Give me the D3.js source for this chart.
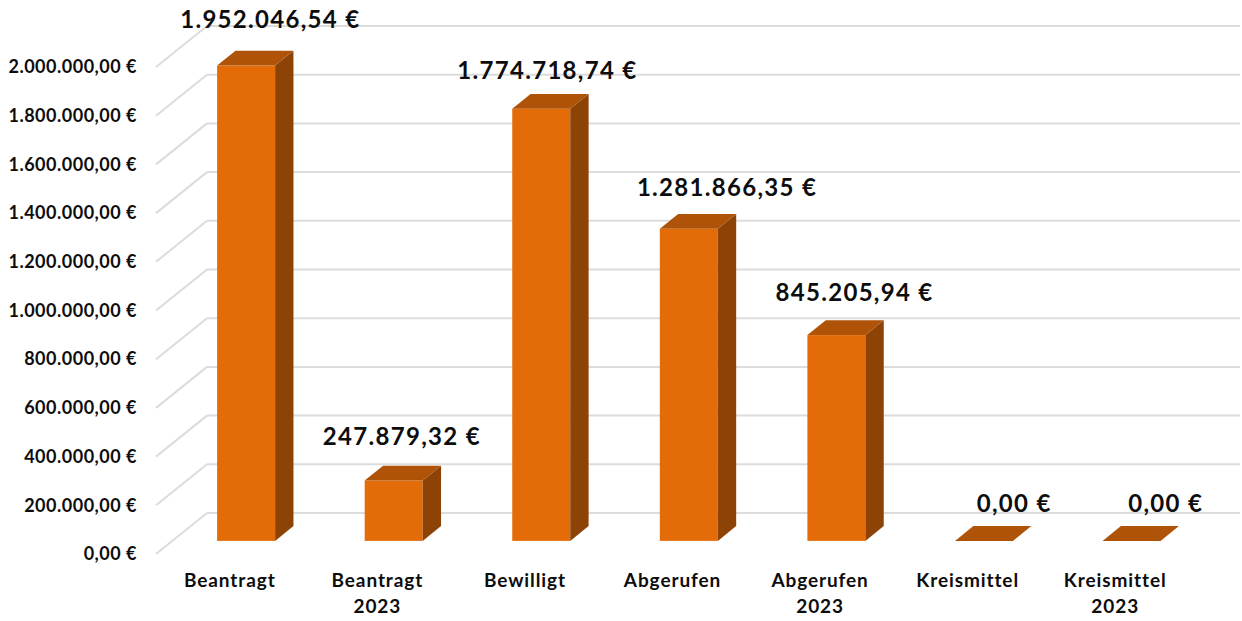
<html>
  <head>
    <meta charset="utf-8">
    <style>
body { margin: 0; background: #fff; }
svg text { font-family: Lato, "Open Sans", sans-serif; font-weight: bold; fill: #0d0d0d; }
.grid line { stroke: #dcdcdc; stroke-width: 2; }
.axis path { display: none; }
    </style>
  </head>
  <body>
    <svg width="1242" height="621"></svg>
    <script src="https://d3js.org/d3.v7.min.js"></script>
    <script>

// data
var categories = ["Beantragt", "Beantragt 2023", "Bewilligt", "Abgerufen", "Abgerufen 2023", "Kreismittel", "Kreismittel 2023"];
var values = [1952046.54, 247879.32, 1774718.74, 1281866.35, 845205.94, 0, 0];
var yTicks = [0, 200000, 400000, 600000, 800000, 1000000, 1200000, 1400000, 1600000, 1800000, 2000000];

// little position tweaks for the value labels (Excel puts them a bit unevenly)
var labelNudge = [[15, -31], [-1, -29], [-3, -24], [29, -27], [9, -28], [21, -23], [25, -23]];

var svg = d3.select("svg");

var de = d3.formatLocale({decimal: ",", thousands: ".", grouping: [3], currency: ["", " €"]});
var fmt = de.format("$,.2f");

// front plane of the box, plus the depth vector of the back wall
var left = 156, right = 1189,
    depth = {x: 51, y: -41},
    t0 = 0.32, t1 = 0.68;   // bar sits between these depth fractions

var x = d3.scaleBand().domain(categories).range([left, right])
    .paddingInner(0.607).paddingOuter(0.3035);
var y = d3.scaleLinear().domain([0, 2000000]).range([554, 67]);

// grid: diagonal on the side wall and horizontal on the back wall
var grid = svg.append("g").attr("class", "grid");
grid.selectAll(".diag").data(yTicks).enter().append("line")
  .attr("x1", left).attr("y1", function(d) { return y(d); })
  .attr("x2", left + depth.x).attr("y2", function(d) { return y(d) + depth.y; });
grid.selectAll(".back").data(yTicks).enter().append("line")
  .attr("x1", left + depth.x).attr("y1", function(d) { return y(d) + depth.y; })
  .attr("x2", right + depth.x).attr("y2", function(d) { return y(d) + depth.y; });

// y axis labels
svg.append("g")
  .attr("class", "axis")
  .attr("transform", "translate(137,0)")
  .call(d3.axisLeft(y).tickValues(yTicks).tickSize(0).tickPadding(0).tickFormat(fmt))
  .selectAll("text")
  .style("font-size", "18px")
  .style("letter-spacing", "0.5px")
  .style("font-family", "Lato, sans-serif");

// bars
var bw = x.bandwidth();
var bars = svg.selectAll(".bar").data(values).enter().append("g").attr("class", "bar");

function pt(px, py) { return px + "," + py; }

bars.each(function(v, i) {
  var g = d3.select(this),
      xl = x(categories[i]), xr = xl + bw,
      yt = y(v), yb = y(0),
      ax = t0 * depth.x, ay = t0 * depth.y,
      bx = t1 * depth.x, by = t1 * depth.y;

  if (v > 0) {
    g.append("rect")
      .attr("x", xl + ax).attr("y", yt + ay)
      .attr("width", bw).attr("height", yb - yt)
      .attr("fill", "#e36c09");
    g.append("polygon")
      .attr("points", [pt(xr + ax, yt + ay), pt(xr + bx, yt + by), pt(xr + bx, yb + by), pt(xr + ax, yb + ay)].join(" "))
      .attr("fill", "#8e4306");
  }
  g.append("polygon")
    .attr("points", [pt(xl + ax, yt + ay), pt(xl + bx, yt + by), pt(xr + bx, yt + by), pt(xr + ax, yt + ay)].join(" "))
    .attr("fill", "#af5309");
});

// value labels
svg.selectAll(".val").data(values).enter().append("text")
  .attr("class", "val")
  .attr("x", function(d, i) { return x(categories[i]) + bw / 2 + depth.x / 2 + labelNudge[i][0]; })
  .attr("y", function(d, i) { return y(d) + t1 * depth.y + labelNudge[i][1]; })
  .attr("dy", "0.36em")
  .attr("text-anchor", "middle")
  .style("font-size", "24px")
  .style("letter-spacing", "1.3px")
  .text(function(d) { return fmt(d); });

// category labels, wrapped on the space
var xa = svg.append("g")
  .attr("class", "axis")
  .attr("transform", "translate(0,568)")
  .call(d3.axisBottom(x).tickSize(0).tickPadding(0));

xa.selectAll("text")
  .style("font-size", "19px")
  .style("letter-spacing", "0.9px")
  .style("font-family", "Lato, sans-serif")
  .attr("dy", null)
  .each(function(d) {
    var t = d3.select(this), parts = d.split(" ");
    t.text(null);
    parts.forEach(function(p, k) {
      t.append("tspan").attr("x", 0).attr("y", 19 + k * 26).text(p);
    });
  });

    </script>
  </body>
</html>
